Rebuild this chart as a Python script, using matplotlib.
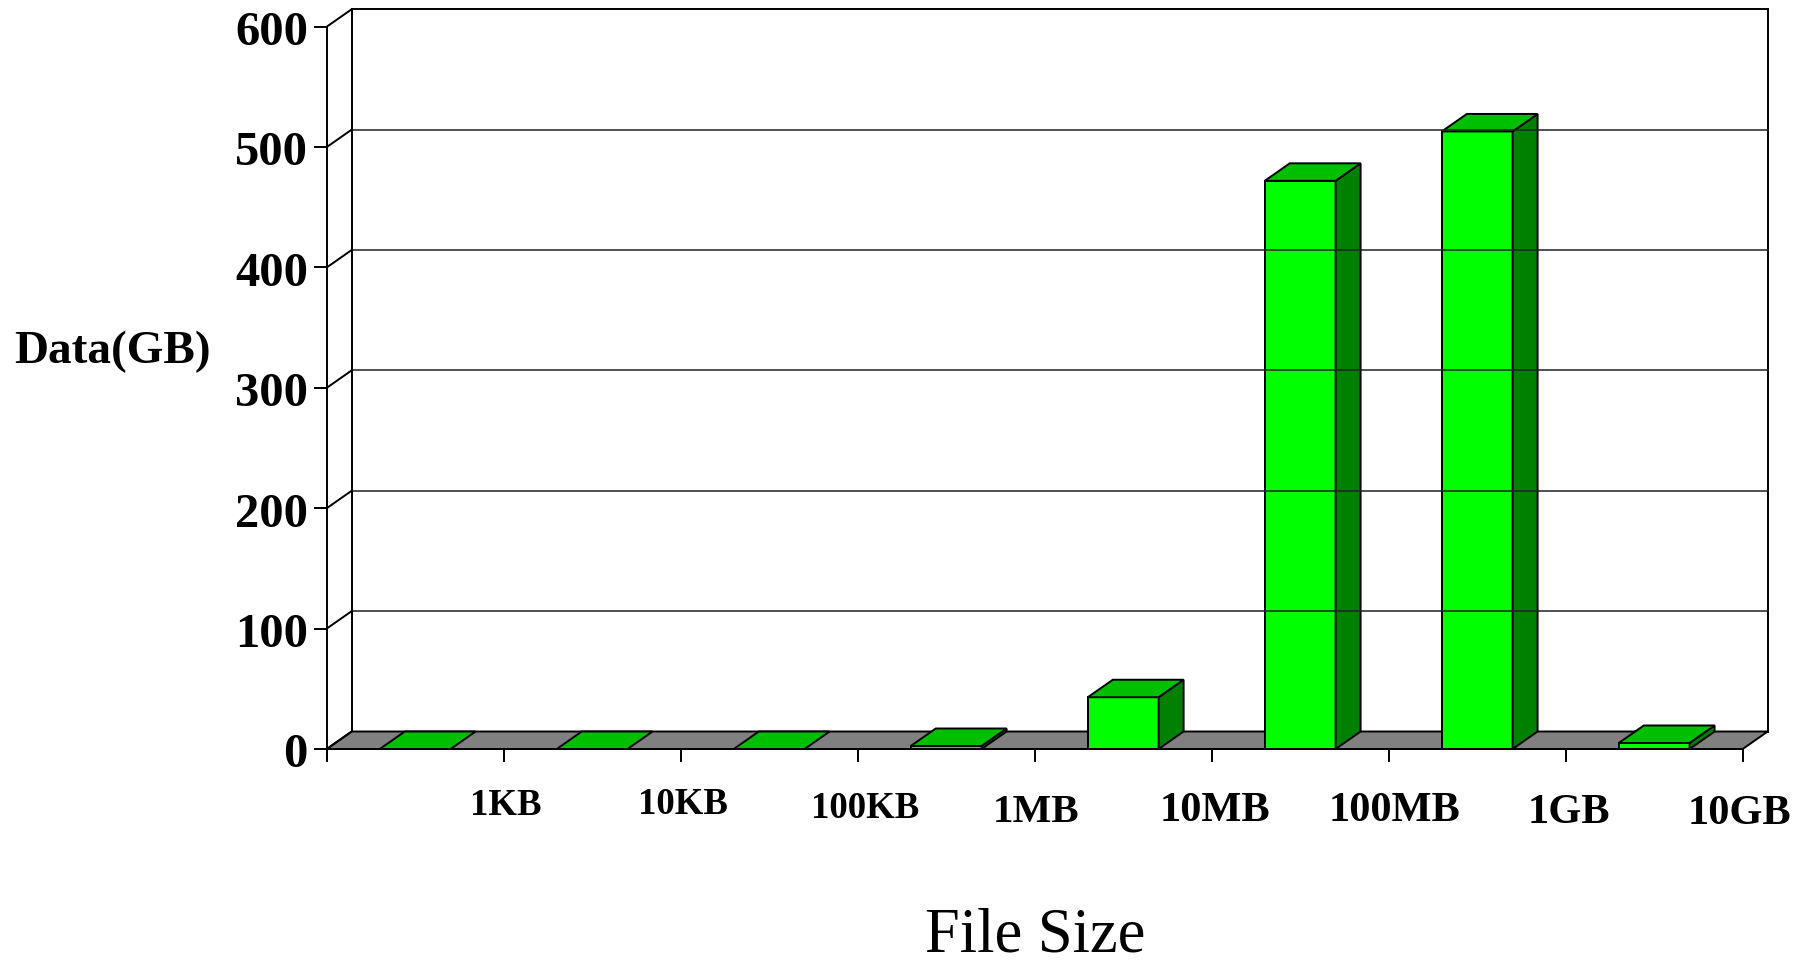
import numpy as np
import matplotlib.pyplot as plt
from matplotlib.patches import Polygon

### chart values
sizes = ['1KB', '10KB', '100KB', '1MB', '10MB', '100MB', '1GB', '10GB']
data_gb = [0, 0, 0, 2.5, 43, 472, 513, 5]
y_ticks = [0, 100, 200, 300, 400, 500, 600]

plt.rcParams['font.family'] = ['Liberation Serif', 'DejaVu Serif']

W, H = 1806, 967
fig = plt.figure(figsize=(W / 100, H / 100), dpi=100)

### front frame in pixels: x=0 at X0, one category = UX px, y=0 at Y0 (from top), UY px per GB
X0, UX = 326.7, 177.0
Y0, UY = 749.0, 1.2038
xlim = (-0.6, 8.3)
ylim = (-90, 620)
ax = fig.add_axes([(X0 + xlim[0] * UX) / W,
                   (H - (Y0 - ylim[0] * UY)) / H,
                   (xlim[1] - xlim[0]) * UX / W,
                   (ylim[1] - ylim[0]) * UY / H])
ax.set_xlim(xlim)
ax.set_ylim(ylim)
ax.axis('off')

DX, DY = 25 / UX, 17.5 / UY   # depth of the fake 3d
n = len(sizes)
ymax = y_ticks[-1]
lw = 1.4

### back wall + gridlines
ax.add_patch(Polygon([(DX, DY), (n + DX, DY), (n + DX, ymax + DY), (DX, ymax + DY)],
                     closed=True, fc='white', ec='black', lw=lw, clip_on=False))
for v in y_ticks:
    if 0 < v < ymax:
        ax.plot([DX, n + DX], [v + DY, v + DY], color='#222222', lw=1.1, clip_on=False)
    ax.plot([0, DX], [v, v + DY], color='black', lw=lw, clip_on=False)
    ax.plot([-11.7 / UX, 0], [v, v], color='black', lw=lw, clip_on=False)
    ax.text(-18.7 / UX, v - 18.3 / UY, str(v), ha='right', va='baseline',
            fontsize=35, fontweight='bold')

### floor
ax.add_patch(Polygon([(0, 0), (n, 0), (n + DX, DY), (DX, DY)],
                     closed=True, fc='#808080', ec='black', lw=lw, clip_on=False))

### front axes
tick_len = 12 / UY
ax.plot([0, 0], [-tick_len, ymax], color='black', lw=lw, clip_on=False)
ax.plot([0, n], [0, 0], color='black', lw=lw, clip_on=False)
for i in range(n + 1):
    ax.plot([i, i], [0, -tick_len], color='black', lw=lw, clip_on=False)

### bars
bw = 0.4
for i, val in enumerate(data_gb):
    x0 = i + 0.5 - bw / 2
    x1 = x0 + bw
    if val > 0:
        ax.add_patch(Polygon([(x0, 0), (x1, 0), (x1, val), (x0, val)], closed=True,
                             fc='#00ff00', ec='black', lw=lw, clip_on=False))
        ax.add_patch(Polygon([(x1, 0), (x1 + DX, DY), (x1 + DX, val + DY), (x1, val)], closed=True,
                             fc='#008000', ec='black', lw=lw, clip_on=False))
    ax.add_patch(Polygon([(x0, val), (x1, val), (x1 + DX, val + DY), (x0 + DX, val + DY)], closed=True,
                         fc='#00bf00', ec='black', lw=lw, clip_on=False))

### category labels sit on the ticks right of each bar (slightly uneven, as in the original)
label_base = [815, 814.3, 818.3, 821.7, 820.7, 821.2, 823, 824.5]
label_dx = [2, 2, 7, 1, 3, 6, 3, -3]
label_fs = [26.5, 26.5, 26.5, 29.5, 30.5, 30.5, 30.5, 30.5]
for i, lab in enumerate(sizes):
    ax.text(i + 1 + label_dx[i] / UX, (Y0 - label_base[i]) / UY, lab, ha='center', va='baseline',
            fontsize=label_fs[i], fontweight='bold')

fig.text(113 / W, 1 - 363.3 / H, 'Data(GB)', ha='center', va='baseline', fontsize=34, fontweight='bold')
fig.text(1035.5 / W, 1 - 952 / H, 'File Size', ha='center', va='baseline', fontsize=45)

fig.savefig('out.png', dpi=100, facecolor='white')
